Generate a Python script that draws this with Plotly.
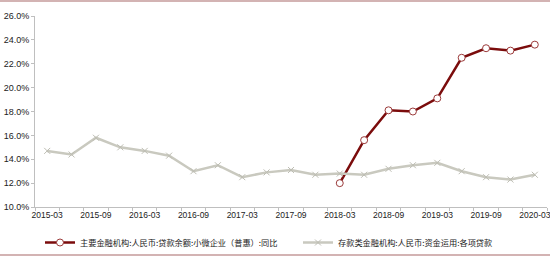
import plotly.graph_objects as go

quarters = ["2015-03","2015-06","2015-09","2015-12","2016-03","2016-06","2016-09","2016-12",
            "2017-03","2017-06","2017-09","2017-12","2018-03","2018-06","2018-09","2018-12",
            "2019-03","2019-06","2019-09","2019-12","2020-03"]
small_biz = [None]*12 + [12.0, 15.6, 18.1, 18.0, 19.1, 22.5, 23.3, 23.1, 23.6]
all_loans = [14.7, 14.4, 15.8, 15.0, 14.7, 14.3, 13.0, 13.5, 12.5, 12.9, 13.1, 12.7,
             12.8, 12.7, 13.2, 13.5, 13.7, 13.0, 12.5, 12.3, 12.7]
name_small = "主要金融机构:人民币:贷款余额:小微企业（普惠）:同比"
name_all = "存款类金融机构:人民币:资金运用:各项贷款"

idx = list(range(len(quarters)))
tickidx = idx[::2]
ticktext = [quarters[i] for i in tickidx]

W, H = 550, 256
ml, mr, mt, mb = 35, 3, 16, 49
pw, ph = W - ml - mr, H - mt - mb

fig = go.Figure()
fig.add_trace(go.Scatter(
    x=idx, y=small_biz, name=name_small, mode="lines+markers",
    line=dict(color="#7b0c0c", width=2.5),
    marker=dict(symbol="circle", size=7, color="white", line=dict(color="#9b3a3a", width=1)),
))
fig.add_trace(go.Scatter(
    x=idx, y=all_loans, name=name_all, mode="lines+markers",
    line=dict(color="#c9c9bf", width=2.5),
    marker=dict(symbol="x-thin", size=6, line=dict(color="#bdbdb3", width=1)),
))

fig.update_layout(
    width=W, height=H,
    margin=dict(l=ml, r=mr, t=mt, b=mb, autoexpand=False),
    paper_bgcolor="white", plot_bgcolor="white",
    font=dict(family="Liberation Sans, Arial", color="#222222", size=9),
    xaxis=dict(
        range=[-0.5, 20.5], showgrid=False, zeroline=False,
        showline=True, linecolor="#bfbfbf", linewidth=1,
        tickmode="array", tickvals=tickidx, ticktext=ticktext,
        ticks="", tickfont=dict(size=8.5, color="#222222"),
        ticklabeloverflow="allow",
        minor=dict(tickmode="linear", tick0=0.5, dtick=1, ticks="outside",
                   ticklen=3, tickcolor="#bfbfbf", tickwidth=1),
        fixedrange=True,
    ),
    yaxis=dict(
        range=[10, 26], dtick=2, tick0=10, showgrid=False, zeroline=False,
        showline=True, linecolor="#bfbfbf", linewidth=1,
        ticks="outside", ticklen=3, tickcolor="#bfbfbf",
        tickformat=".1f", ticksuffix="%", tickfont=dict(size=9, color="#222222"),
        ticklabeloverflow="allow",
        fixedrange=True,
    ),
    legend=dict(
        orientation="h", x=5/pw, xanchor="left", y=-21/ph, yanchor="top",
        font=dict(family="Noto Sans CJK SC", size=8.2, color="#222222"),
        entrywidth=213, entrywidthmode="pixels", itemwidth=30,
        bgcolor="rgba(0,0,0,0)",
    ),
    showlegend=True,
)

border = "#c49a9a"
for py in (1, 255):
    yp = (H - mb - py) / ph
    fig.add_shape(type="line", xref="paper", yref="paper",
                  x0=-ml/pw, x1=(W - ml)/pw, y0=yp, y1=yp,
                  line=dict(color=border, width=1.5))

fig.write_html("out.html")
